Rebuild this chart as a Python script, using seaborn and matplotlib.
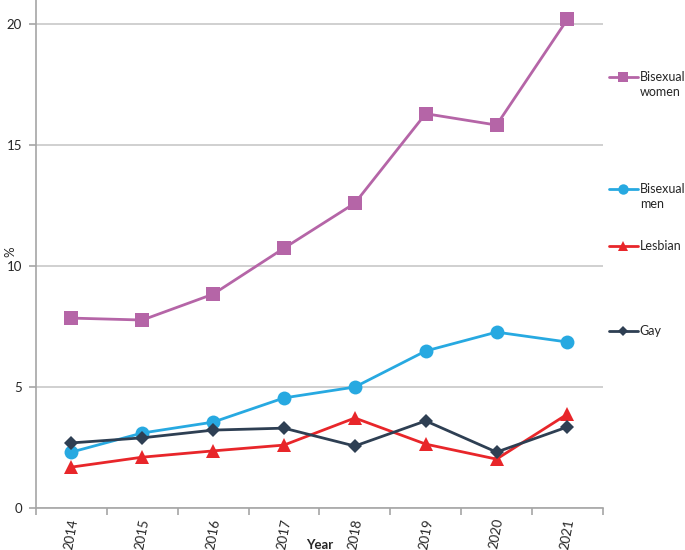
import matplotlib
matplotlib.use("Agg")
import matplotlib.pyplot as plt
import seaborn as sns
import pandas as pd
from matplotlib.lines import Line2D

# data
years = ["2014", "2015", "2016", "2017", "2018", "2019", "2020", "2021"]
bi_women = [7.85, 7.77, 8.84, 10.74, 12.6, 16.3, 15.83, 20.2]
bi_men = [2.31, 3.1, 3.55, 4.55, 5.0, 6.49, 7.27, 6.86]
lesbian = [1.69, 2.1, 2.36, 2.6, 3.72, 2.64, 2.02, 3.88]
gay = [2.69, 2.9, 3.22, 3.3, 2.56, 3.6, 2.31, 3.35]

groups = ["Bisexual women", "Bisexual men", "Lesbian", "Gay"]
series = [bi_women, bi_men, lesbian, gay]
colors = ["#B565A7", "#27A9E1", "#E8262A", "#2E3F53"]
markers = ["s", "o", "^", "D"]
msizes = [10, 10, 10, 7]

# long-form table
rows = []
for g, vals in zip(groups, series):
    for y, v in zip(years, vals):
        rows.append({"Year": y, "pct": v, "group": g})
df = pd.DataFrame(rows)

sns.set_style("white")
plt.rcParams["font.family"] = ["Lato", "DejaVu Sans"]

fig = plt.figure(figsize=(6.85, 5.5), dpi=100)
ax = fig.add_axes([0.0526, 0.0764, 0.8274, 0.9236])

for g, c, m, ms in zip(groups, colors, markers, msizes):
    sub = df[df["group"] == g]
    sns.lineplot(data=sub, x="Year", y="pct", color=c, marker=m,
                 markersize=ms, markeredgewidth=0, linewidth=2,
                 ax=ax, legend=False)

# axes styling
ax.set_xlim(-0.5, 7.5)
ax.set_ylim(0, 21)
ax.set_yticks([0, 5, 10, 15, 20])
ax.yaxis.grid(True, color="#C8C8C8", linewidth=1.2)
ax.set_axisbelow(True)
for s in ["top", "right"]:
    ax.spines[s].set_visible(False)
for s in ["left", "bottom"]:
    ax.spines[s].set_color("#A6A6A6")
    ax.spines[s].set_linewidth(1.2)

ax.set_xticks(range(len(years)))
ax.set_xticklabels(years, rotation=80, fontsize=9.5)
ax.set_xticks([i - 0.5 for i in range(len(years) + 1)], minor=True)
ax.tick_params(axis="x", which="major", length=0, pad=7)
ax.tick_params(axis="x", which="minor", length=5, color="#A6A6A6", width=1.2,
               bottom=True)
ax.tick_params(axis="y", length=5, color="#A6A6A6", width=1.2, left=True,
               labelsize=9.5, pad=5)

ax.set_xlabel("Year", fontsize=9.5, fontweight="bold", va="center")
ax.xaxis.set_label_coords(0.5, -0.072)
ax.set_ylabel("%", fontsize=9.5, va="center")
ax.yaxis.set_label_coords(-0.046, 0.505)

# legend on the right, one entry at a time (uneven spacing as in reference)
leg_y = [77, 189, 246, 331]
first_line = ["Bisexual", "Bisexual", "Lesbian", "Gay"]
second_line = ["women", "men", "", ""]
for c, m, ms, y, t1, t2 in zip(colors, markers, msizes, leg_y,
                               first_line, second_line):
    h = Line2D([0], [0], color=c, marker=m, markersize=ms * 0.75,
               markeredgewidth=0, linewidth=2)
    fig.legend([h], [t1], loc="center left",
               bbox_to_anchor=(609 / 685, 1 - y / 550), frameon=False,
               fontsize=9, handlelength=2.3, handletextpad=0.15,
               borderpad=0, borderaxespad=0)
    if t2:
        fig.text(640 / 685, 1 - (y + 15) / 550, t2, fontsize=9,
                 va="center", ha="left")

fig.savefig("out.png", dpi=100)
